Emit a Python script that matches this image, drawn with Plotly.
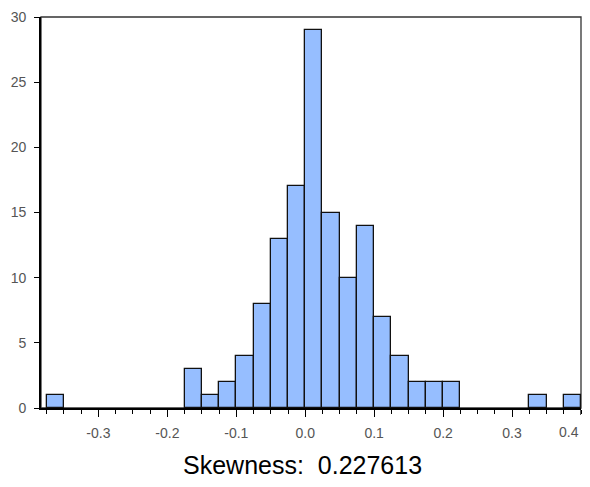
import plotly.graph_objects as go

bin_width = 0.025
bin_starts = [-0.375, -0.175, -0.15, -0.125, -0.1, -0.075, -0.05, -0.025, 0.0,
              0.025, 0.05, 0.075, 0.1, 0.125, 0.15, 0.175, 0.2, 0.325, 0.375]
counts = [1, 3, 1, 2, 4, 8, 13, 17, 29, 15, 10, 14, 7, 4, 2, 2, 2, 1, 1]
x_ticks = [-0.3, -0.2, -0.1, 0.0, 0.1, 0.2, 0.3, 0.4]
y_ticks = [0, 5, 10, 15, 20, 25, 30]
skewness_label = "Skewness:\u00a0\u00a00.227613"

centers = [s + bin_width / 2 for s in bin_starts]
x_labels = [f"{v:.1f}" for v in x_ticks]

fig = go.Figure(go.Bar(
    x=centers, y=counts, width=bin_width,
    marker=dict(color="#96BEFF", line=dict(color="#111111", width=1.3)),
))

tickfont = dict(family="Liberation Sans, Arial, sans-serif", size=14, color="#555555")
fig.update_layout(
    width=574, height=471,
    margin=dict(l=33, r=1, t=9, b=71, autoexpand=False),
    paper_bgcolor="white", plot_bgcolor="white",
    showlegend=False,
    bargap=0,
    xaxis=dict(
        range=[-0.3833, 0.4], automargin=False,
        tickvals=x_ticks[:-1], ticktext=x_labels[:-1],
        ticks="outside", ticklen=7, tickwidth=1.3, tickcolor="black",
        ticklabelstandoff=4,
        minor=dict(dtick=0.025, tick0=0, ticks="outside", ticklen=4, tickwidth=1.3, tickcolor="black"),
        showline=True, linecolor="black", linewidth=1.8,
        showgrid=False, zeroline=False, tickfont=tickfont,
    ),
    yaxis=dict(
        range=[0, 30], automargin=False,
        tickvals=y_ticks,
        ticks="outside", ticklen=5, tickwidth=1.3, tickcolor="black",
        ticklabelstandoff=5,
        showline=True, linecolor="black", linewidth=1.8,
        showgrid=False, zeroline=False, tickfont=tickfont,
    ),
    shapes=[dict(type="rect", xref="paper", yref="paper", x0=0, x1=1, y0=0, y1=1,
                 line=dict(color="#333333", width=1.3), layer="below"),
            dict(type="line", xref="x", yref="paper", x0=x_ticks[-1], x1=x_ticks[-1],
                 y0=0, y1=-0.018, line=dict(color="black", width=1.3))],
    annotations=[
        dict(text=x_labels[-1], xref="x", yref="paper",
             x=x_ticks[-1], y=-0.061, xanchor="right", yanchor="middle",
             showarrow=False, font=tickfont),
        dict(text=skewness_label, xref="paper", yref="paper",
             x=0.484, y=-0.145, xanchor="center", yanchor="middle",
             showarrow=False,
             font=dict(family="Liberation Sans, Arial, sans-serif", size=25, color="black")),
    ],
)

fig.write_html("out.html")
